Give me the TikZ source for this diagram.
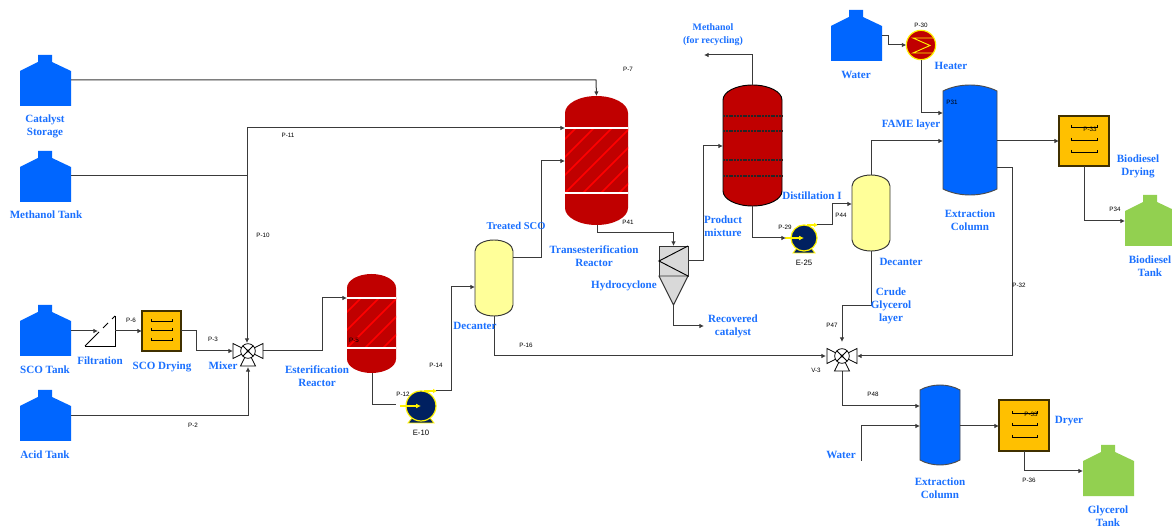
\documentclass[tikz,border=0pt]{standalone}
\usepackage{fontspec}
\setmainfont{Liberation Serif}
\newfontfamily\lblsans{Liberation Sans}
\usetikzlibrary{arrows.meta}
\definecolor{tankblue}{HTML}{0066FF}
\definecolor{lblblue}{HTML}{1A70FF}
\definecolor{vesselred}{HTML}{C00000}
\definecolor{stripered}{HTML}{FF0000}
\definecolor{dryeramber}{HTML}{FFC000}
\definecolor{decyellow}{HTML}{FFFF99}
\definecolor{pumpnavy}{HTML}{002060}
\definecolor{greentank}{HTML}{92D050}
\definecolor{cyclgray}{HTML}{D9D9D9}
\definecolor{linegray}{HTML}{3A3A3A}
\tikzset{
  conn/.style={draw=linegray,line width=0.75pt,line join=miter},
  feed/.style={conn,-{Latex[length=3.4pt,width=3.4pt]}},
  anchorbox/.style={inner sep=0pt,outer sep=0pt},
  lbl/.style={font=\bfseries\fontsize{8.3}{9.8}\selectfont,text=lblblue,align=center,inner sep=0pt},
  tag/.style={font=\lblsans\fontsize{4.7}{5.5}\selectfont,text=black,inner sep=0pt},
  eqtag/.style={font=\lblsans\fontsize{5.8}{7}\selectfont,text=black,inner sep=0pt},
  valvepart/.style={draw=black,line width=0.6pt,fill=white},
}
% name, left, top, colour
\newcommand\tankshape[4]{%
  \node[anchorbox,minimum width=38.25pt,minimum height=39pt] (#1) at (#2+25.5,#3+26) {};
  \fill[#4] (#2,#3+16) -- (#2+18,#3+7) -- (#2+18,#3) -- (#2+32,#3) -- (#2+32,#3+7) -- (#2+51,#3+16) -- (#2+51,#3+51) -- (#2,#3+51) -- cycle;
}
% name, x1, y1, x2, y2, cap, fill
\newcommand\vesselshape[7]{%
  \pgfmathsetmacro\vw{#4-#2}\pgfmathsetmacro\vh{#5-#3}%
  \node[anchorbox,minimum width=\vw*0.75pt,minimum height=\vh*0.75pt] (#1) at ({(#2+#4)/2},{(#3+#5)/2}) {};
  \draw[#7] (#2,#3+#6) arc[start angle=180,end angle=360,x radius=\vw/2,y radius=#6] -- (#4,#5-#6) arc[start angle=0,end angle=180,x radius=\vw/2,y radius=#6] -- cycle;
}
% name, x1, y1, x2, y2, cap, fill
\newcommand\columnshape[7]{%
  \pgfmathsetmacro\vw{#4-#2}\pgfmathsetmacro\vh{#5-#3}%
  \node[anchorbox,minimum width=\vw*0.75pt,minimum height=\vh*0.75pt] (#1) at ({(#2+#4)/2},{(#3+#5)/2}) {};
  \draw[#7] (#2,#3+#6) .. controls ({#2+0.3*\vw},{#3-#6/3}) and ({#4-0.3*\vw},{#3-#6/3}) .. (#4,#3+#6) -- (#4,#5-#6) .. controls ({#4-0.3*\vw},{#5+#6/3}) and ({#2+0.3*\vw},{#5+#6/3}) .. (#2,#5-#6) -- cycle;
}
% name, x1, y1, x2, y2, cap, bandtop, bandbottom
\newcommand\reactorshape[8]{%
  \vesselshape{#1}{#2}{#3}{#4}{#5}{#6}{fill=vesselred,draw=none}
  \begin{scope}
    \clip (#2,#7) rectangle (#4,#8);
    \foreach \o in {-72,-54,...,72} {
      \draw[stripered,line width=1.2pt] (#2+\o,#8) -- (#2+\o+#8-#7,#7);
    }
  \end{scope}
  \draw[white,line width=0.8pt] (#2,#7) -- (#4,#7) (#2,#8) -- (#4,#8);
}
% name, x1, y1, x2, y2, tray left, tray right, tray y's
\newcommand\dryershape[8]{%
  \pgfmathsetmacro\vw{#4-#2}\pgfmathsetmacro\vh{#5-#3}%
  \node[anchorbox,draw=black!75!dryeramber,line width=0.9pt,fill=dryeramber,minimum width=\vw*0.75pt,minimum height=\vh*0.75pt] (#1) at ({(#2+#4)/2},{(#3+#5)/2}) {};
  \foreach \ty in {#8} {
    \draw[black,line width=0.5pt] (#6,\ty-2) -- (#6,\ty) -- (#7,\ty) -- (#7,\ty-2);
  }
}
% name, cx, cy
\newcommand\mixershape[3]{%
  \draw[valvepart] (#2-15,#3-7.5) -- (#2,#3) -- (#2-15,#3+7.5) -- cycle;
  \draw[valvepart] (#2+15,#3-7.5) -- (#2,#3) -- (#2+15,#3+7.5) -- cycle;
  \draw[valvepart] (#2-7.5,#3+15) -- (#2,#3) -- (#2+7.5,#3+15) -- cycle;
  \node[anchorbox,circle,draw=black,line width=0.6pt,fill=white,minimum size=11pt] (#1) at (#2,#3) {};
  \draw[black,line width=0.6pt] (#2-5,#3-5) -- (#2+5,#3+5) (#2+5,#3-5) -- (#2-5,#3+5);
  \fill[black] (#2,#3) circle[radius=1.6];
}
% name, cx, cy, r
\newcommand\pumpshape[4]{%
  \draw[yellow,fill=pumpnavy,line width=0.6pt] (#2-#4+2,#3+#4+2) -- (#2+#4-2,#3+#4+2) -- (#2+#4-6,#3+#4-3) -- (#2-#4+6,#3+#4-3) -- cycle;
  \node[anchorbox,circle,draw=yellow,line width=0.9pt,fill=pumpnavy,minimum size=#4*1.5pt] (#1) at (#2,#3) {};
  \draw[yellow,line width=0.9pt,-{Latex[length=3.6pt,width=3.6pt]}] (#2-#4-6,#3) -- (#2,#3);
  \draw[yellow,line width=0.9pt,-{Latex[length=3pt,width=3.6pt]}] (#2+3,#3-#4) -- (#2+#4+1,#3-#4);
}
\newcommand\lab[4]{\node[lbl] (#1) at (#2,#3+1) {#4};}
\newcommand\ptag[4]{\node[tag] (#1) at (#2,#3) {#4};}
\begin{document}
\begin{tikzpicture}[x=0.75pt,y=-0.75pt]
\useasboundingbox (0,0) rectangle (1172,527);
\clip (0,0) rectangle (1172,527);
\fill[white] (0,0) rectangle (1172,527);

% tanks
\tankshape{catalyst}{20}{55}{tankblue}
\tankshape{methanol}{20}{151}{tankblue}
\tankshape{sco}{20}{305}{tankblue}
\tankshape{acid}{20}{390}{tankblue}
\tankshape{water}{831}{10}{tankblue}
\tankshape{biotank}{1125}{195}{greentank}
\tankshape{glytank}{1083}{445}{greentank}

% filter
\node[anchorbox,minimum width=22.5pt,minimum height=22.5pt] (filter) at (100,331) {};
\draw[black,line width=0.6pt] (115,316) -- (115,346) -- (85,346);
\draw[black,line width=0.6pt] (85,346) -- (99,332) (103,328) -- (108,323) (112,319) -- (115,316);

% dryers
\dryershape{dry1}{142}{311}{181}{351}{151}{172}{321,330,340}
\dryershape{dry2}{1059}{116}{1109}{166}{1071}{1097}{127,140,152}
\dryershape{dry3}{999}{400}{1049}{451}{1012}{1037}{413,425,437}

% reactors
\reactorshape{reac1}{347}{274}{396}{373}{14}{298}{348}
\reactorshape{reac2}{565}{96}{628}{225}{17}{128}{193}

% decanters
\vesselshape{dec1}{475}{240}{513}{316}{11}{fill=decyellow,draw=black!80,line width=0.7pt}
\vesselshape{dec2}{852}{175}{890}{251}{11}{fill=decyellow,draw=black!80,line width=0.7pt}

% distillation
\vesselshape{dist}{723}{85}{782}{206}{15}{fill=vesselred,draw=black,line width=0.7pt}
\draw[black!85,line width=0.8pt,dash pattern=on 1.5pt off 0.6pt] (723,116) -- (782,116) (723,131) -- (782,131) (723,160) -- (782,160) (723,176) -- (782,176);

% extraction columns
\columnshape{ext1}{943}{85}{997}{195}{6}{fill=tankblue,draw=black!70,line width=0.7pt}
\columnshape{ext2}{920}{385}{960}{465}{5}{fill=tankblue,draw=black!70,line width=0.7pt}

% hydrocyclone
\node[anchorbox,draw=black!80,line width=0.7pt,fill=cyclgray,minimum width=21.75pt,minimum height=22.5pt] (cyc) at (673.5,261) {};
\draw[black!80,line width=0.7pt,fill=cyclgray] (659,276) -- (688,276) -- (673.5,305) -- cycle;
\coordinate (cone) at (673.5,305);
\draw[black,line width=0.7pt] (688,246) -- (659,261) -- (688,276);

% heater
\node[anchorbox,circle,draw=yellow,line width=0.9pt,fill=vesselred,minimum size=22pt] (heat) at (921,45) {};
\draw[yellow,line width=0.7pt] (933,38) -- (913,38) -- (930,45.5) -- (913,53) -- (933,53);

% pumps
\pumpshape{pump1}{421}{406}{15}
\pumpshape{pump2}{804}{238}{13}

% connectors
\draw[feed] (catalyst.east |- 0,80) -- (596,80) -- (reac2.north |- 0,96);
\draw[feed] (247,176) -- (247,128) -- (reac2.west |- 0,128);
\draw[conn] (methanol.east |- 0,176) -- (247,176);
\draw[feed] (247,176) -- (247,343);
\draw[feed] (sco.east) -- (98,331);
\draw[feed] (115,331) -- (dry1.west);
\draw[feed] (dry1.east) -- (196,331) -- (196,351) -- (233,351);
\draw[feed] (acid.east |- 0,416) -- (248,416) -- (248,367);
\draw[feed] (263,351) -- (322,351) -- (322,298) -- (reac1.west |- 0,298);
\draw[conn] (372,373) -- (372,405) -- (396,405);
\draw[feed] (436,391) -- (451,391) -- (451,287) -- (dec1.west |- 0,287);
\draw[feed] (dec1.east |- 0,258) -- (541,258) -- (541,161) -- (reac2.west |- 0,161);
\draw[feed] (494,316) -- (494,356) -- (826,356);
\draw[feed] (597,225) -- (597,233) -- (673.5,233) -- (cyc.north);
\draw[feed] (cone) -- (673.5,326) -- (704,326);
\draw[feed] (cyc.east) -- (703,261) -- (703,146) -- (dist.west |- 0,146);
\draw[feed] (dist.north) -- (752.5,55) -- (704,55);
\draw[feed] (dist.south) -- (752.5,238) -- (786,238);
\draw[feed] (817,225) -- (832,225) -- (832,204) -- (dec2.west |- 0,204);
\draw[feed] (dec2.north) -- (871,141) -- (ext1.west |- 0,141);
\draw[feed] (dec2.south) -- (871,306) -- (842,306) -- (842,342);
\draw[feed] (water.east |- 0,36) -- (888,36) -- (888,45) -- (heat.west);
\draw[feed] (heat.south) -- (921,113) -- (ext1.west |- 0,113);
\draw[feed] (ext1.east |- 0,141) -- (dry2.west |- 0,141);
\draw[feed] (ext1.east |- 0,168) -- (1012,168) -- (1012,356) -- (857,356);
\draw[feed] (1084,166) -- (1084,221) -- (biotank.west |- 0,221);
\draw[feed] (842,371) -- (842,406) -- (ext2.west |- 0,406);
\coordinate (waterfree) at (861,461);
\draw[feed] (waterfree) -- (861,426) -- (ext2.west |- 0,426);
\draw[feed] (ext2.east |- 0,426) -- (dry3.west |- 0,426);
\draw[feed] (1024,451) -- (1024,471) -- (glytank.west |- 0,471);

% valves
\mixershape{mixer}{248}{351}{}
\mixershape{v3}{842}{356}{}

% blue labels
\lab{l1}{45}{125}{Catalyst\\Storage}
\lab{l2}{46}{214}{Methanol Tank}
\lab{l3}{45}{369}{SCO Tank}
\lab{l4}{45}{454}{Acid Tank}
\lab{l5}{100}{360}{Filtration}
\lab{l6}{162}{366}{SCO Drying}
\lab{l7}{223}{365}{Mixer}
\lab{l8}{317}{375}{Esterification\\Reactor}
\node[lbl,font=\bfseries\fontsize{7.9}{9.8}\selectfont] (l9) at (516,226) {Treated SCO};
\lab{l10}{475}{325}{Decanter}
\lab{l11}{594}{255}{Transesterification\\Reactor}
\lab{l12}{624}{285}{Hydrocyclone}
\lab{l13}{723}{225}{Product\\mixture}
\lab{l14}{733}{325}{Recovered\\catalyst}
\node[lbl,font=\bfseries\fontsize{7.4}{9.8}\selectfont] (l15) at (713,35) {Methanol\\(for recycling)};
\lab{l16}{812}{195}{Distillation I}
\lab{l17}{856}{74}{Water}
\lab{l18}{951}{65}{Heater}
\lab{l19}{911}{124}{FAME layer}
\lab{l20}{970}{219}{Extraction\\Column}
\lab{l21}{1138}{165}{Biodiesel\\Drying}
\lab{l22}{1150}{265}{Biodiesel\\Tank}
\lab{l23}{901}{261}{Decanter}
\lab{l24}{891}{305}{Crude\\Glycerol\\layer}
\lab{l25}{1069}{420}{Dryer}
\lab{l26}{841}{454}{Water}
\lab{l27}{940}{487}{Extraction\\Column}
\lab{l28}{1108}{515}{Glycerol\\Tank}

% small tags
\ptag{t1}{628}{69}{P-7}
\ptag{t2}{288}{135}{P-11}
\ptag{t3}{263}{235}{P-10}
\ptag{t4}{131}{320}{P-6}
\ptag{t5}{213}{339}{P-3}
\ptag{t6}{193}{425}{P-2}
\ptag{t7}{354}{340}{P-5}
\ptag{t8}{403}{394}{P-12}
\ptag{t9}{436}{365}{P-14}
\ptag{t10}{526}{345}{P-16}
\ptag{t11}{628}{222}{P41}
\ptag{t12}{785}{227}{P-29}
\ptag{t13}{921}{25}{P-30}
\ptag{t14}{952}{102}{P31}
\ptag{t15}{1090}{129}{P-33}
\ptag{t16}{841}{215}{P44}
\ptag{t17}{1019}{285}{P-32}
\ptag{t18}{832}{325}{P47}
\ptag{t19}{816}{370}{V-3}
\ptag{t20}{873}{394}{P48}
\ptag{t21}{1031}{414}{P-33}
\ptag{t22}{1029}{480}{P-36}
\ptag{t23}{1115}{209}{P34}
\node[eqtag] (e1) at (421,433) {E-10};
\node[eqtag] (e2) at (804,263) {E-25};
\end{tikzpicture}
\end{document}
